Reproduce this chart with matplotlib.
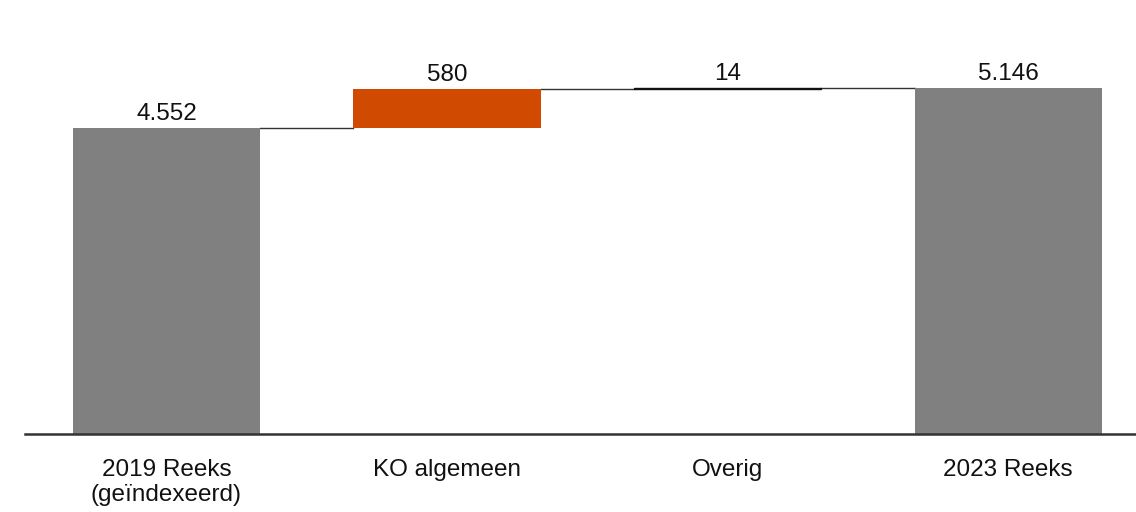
import matplotlib
matplotlib.use("Agg")
import matplotlib.pyplot as plt

categories = ["2019 Reeks\n(geïndexeerd)", "KO algemeen", "Overig", "2023 Reeks"]
start_total = 4552
changes = [580, 14]
end_total = 5146
labels = ["4.552", "580", "14", "5.146"]

GREY = "#808080"
ORANGE = "#D04A02"

plt.rcParams["font.family"] = ["Liberation Sans", "DejaVu Sans"]

fig = plt.figure(figsize=(11.36, 5.12), dpi=100)
ax = fig.add_axes([25 / 1136, 78 / 512, 1 - 25 / 1136, 434 / 512])

width = 0.667
x = list(range(len(categories)))

# running levels for the waterfall
bottoms = [0]
heights = [start_total]
level = start_total
for c in changes:
    bottoms.append(level)
    heights.append(c)
    level += c
bottoms.append(0)
heights.append(end_total)

colors = [GREY, ORANGE, "#111111", GREY]
edges = [0, 0, 1.0, 0]
for i in x:
    ax.bar(i, heights[i], bottom=bottoms[i], width=width, color=colors[i],
           edgecolor=colors[i], linewidth=edges[i], zorder=2)
    top = bottoms[i] + heights[i]
    ax.text(i, top + 45, labels[i], ha="center", va="bottom", fontsize=17.5,
            color="#111111")

# connectors between consecutive bars
tops = [bottoms[i] + heights[i] for i in x]
for i in range(len(x) - 1):
    ax.plot([i + width / 2, i + 1 - width / 2], [tops[i], tops[i]],
            color="#333333", linewidth=1.0, zorder=1)

ax.set_xlim(-0.504, 3.456)
ax.set_ylim(0, 6455)
ax.set_yticks([])
ax.set_xticks(x)
ax.set_xticklabels(categories, fontsize=17.5, color="#111111", linespacing=1.15)
ax.tick_params(axis="x", length=0, pad=18)
for side in ["top", "right", "left"]:
    ax.spines[side].set_visible(False)
ax.spines["bottom"].set_color("#333333")
ax.spines["bottom"].set_linewidth(1.8)
ax.patch.set_alpha(0)

fig.savefig("out.png", dpi=100)
